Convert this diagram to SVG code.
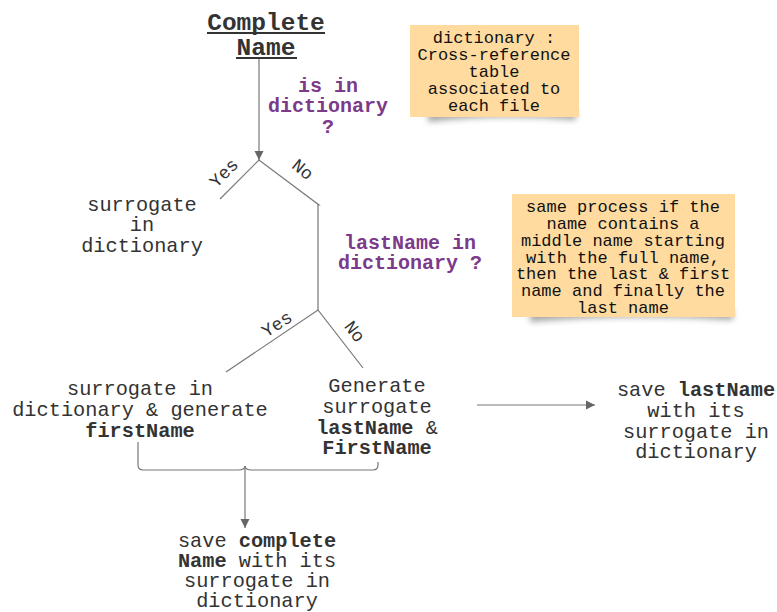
<svg xmlns="http://www.w3.org/2000/svg" width="777" height="612" viewBox="0 0 777 612">
<defs>
<style>
text{font-family:"Liberation Mono","DejaVu Sans Mono",monospace;fill:#333;text-anchor:middle}
.t{font-size:20.3px}
.b{font-weight:bold}
.q{font-size:20px;font-weight:bold;fill:#7b3a8a}
.n{font-size:17px;fill:#111}
.lbl{font-size:18px}
.ln{fill:none;stroke:#777;stroke-width:1.2}
.note{fill:#ffdba0}
.sh{fill:#000;opacity:.35;filter:url(#blur)}
</style>
<marker id="ah" viewBox="0 0 10 10" refX="10" refY="5" markerWidth="9" markerHeight="13" markerUnits="userSpaceOnUse" orient="auto">
<path d="M0,0 L10,5 L0,10 Z" fill="#666"/>
</marker>
<filter id="blur" x="-20%" y="-100%" width="140%" height="300%"><feGaussianBlur stdDeviation="3"/></filter>
</defs>
<rect width="777" height="612" fill="#fff"/>

<g id="connectors">
<line class="ln" x1="259" y1="59" x2="259" y2="160" marker-end="url(#ah)"/>
<polyline class="ln" points="220,199 259,160 319,205 318,205 318,310"/>
<polyline class="ln" points="226,372 318,310 363,368"/>
<path class="ln" d="M138,442 V465 Q138,470 143,470 H238 Q245,470 245,466 Q245,470 252,470 H373 Q378,470 378,465 V462"/>
<line class="ln" x1="245" y1="466" x2="245" y2="528" marker-end="url(#ah)"/>
<line class="ln" x1="477" y1="405" x2="595" y2="405" marker-end="url(#ah)"/>
<text class="lbl" transform="translate(228,177) rotate(-45)">Yes</text>
<text class="lbl" transform="translate(299,174) rotate(40)">No</text>
<text class="lbl" transform="translate(280,329) rotate(-33)">Yes</text>
<text class="lbl" transform="translate(350,335) rotate(53)">No</text>
</g>

<g id="title">
<text class="b" style="font-size:24.5px" x="266" y="30">Complete</text>
<text class="b" style="font-size:24.5px" x="266" y="55">Name</text>
<line x1="207" y1="33" x2="325" y2="33" stroke="#333" stroke-width="2"/>
<line x1="236" y1="58" x2="297" y2="58" stroke="#333" stroke-width="2"/>
</g>

<g id="q1">
<text class="q" x="328" y="92">is in</text>
<text class="q" x="328" y="112">dictionary</text>
<text class="q" x="328" y="133">?</text>
</g>

<g id="q2">
<text class="q" x="410" y="249">lastName in</text>
<text class="q" x="410" y="269">dictionary ?</text>
</g>

<g id="note1">
<path class="sh" d="M428,110 H576 V120 Q500,113 428,122 Z"/>
<rect class="note" x="410" y="25" width="169" height="92"/>
<text class="n" x="494" y="43">dictionary :</text>
<text class="n" x="494" y="60">Cross-reference</text>
<text class="n" x="494" y="77">table</text>
<text class="n" x="494" y="94">associated to</text>
<text class="n" x="494" y="111">each file</text>
</g>

<g id="note2">
<path class="sh" d="M530,310 H733 V320 Q630,313 530,322 Z"/>
<rect class="note" x="512" y="194" width="223" height="123"/>
<text class="n" x="623" y="212">same process if the</text>
<text class="n" x="623" y="229">name contains a</text>
<text class="n" x="623" y="246">middle name starting</text>
<text class="n" x="623" y="263">with the full name,</text>
<text class="n" x="623" y="279">then the last &amp; first</text>
<text class="n" x="623" y="296">name and finally the</text>
<text class="n" x="623" y="313">last name</text>
</g>

<g id="yes1">
<text class="t" x="142" y="211">surrogate</text>
<text class="t" x="142" y="231">in</text>
<text class="t" x="142" y="252">dictionary</text>
</g>

<g id="yes2">
<text class="t" x="140" y="395">surrogate in</text>
<text class="t" x="140" y="416">dictionary &amp; generate</text>
<text class="t b" x="140" y="437">firstName</text>
</g>

<g id="no2">
<text class="t" x="377" y="392">Generate</text>
<text class="t" x="377" y="413">surrogate</text>
<text class="t" x="377" y="434"><tspan class="b">lastName</tspan> &amp;</text>
<text class="t b" x="377" y="454">FirstName</text>
</g>

<g id="saveLast">
<text class="t" x="696" y="396">save <tspan class="b">lastName</tspan></text>
<text class="t" x="696" y="417">with its</text>
<text class="t" x="696" y="438">surrogate in</text>
<text class="t" x="696" y="458">dictionary</text>
</g>

<g id="saveComplete">
<text class="t" x="257" y="547">save <tspan class="b">complete</tspan></text>
<text class="t" x="257" y="567"><tspan class="b">Name</tspan> with its</text>
<text class="t" x="257" y="587">surrogate in</text>
<text class="t" x="257" y="607">dictionary</text>
</g>
</svg>
